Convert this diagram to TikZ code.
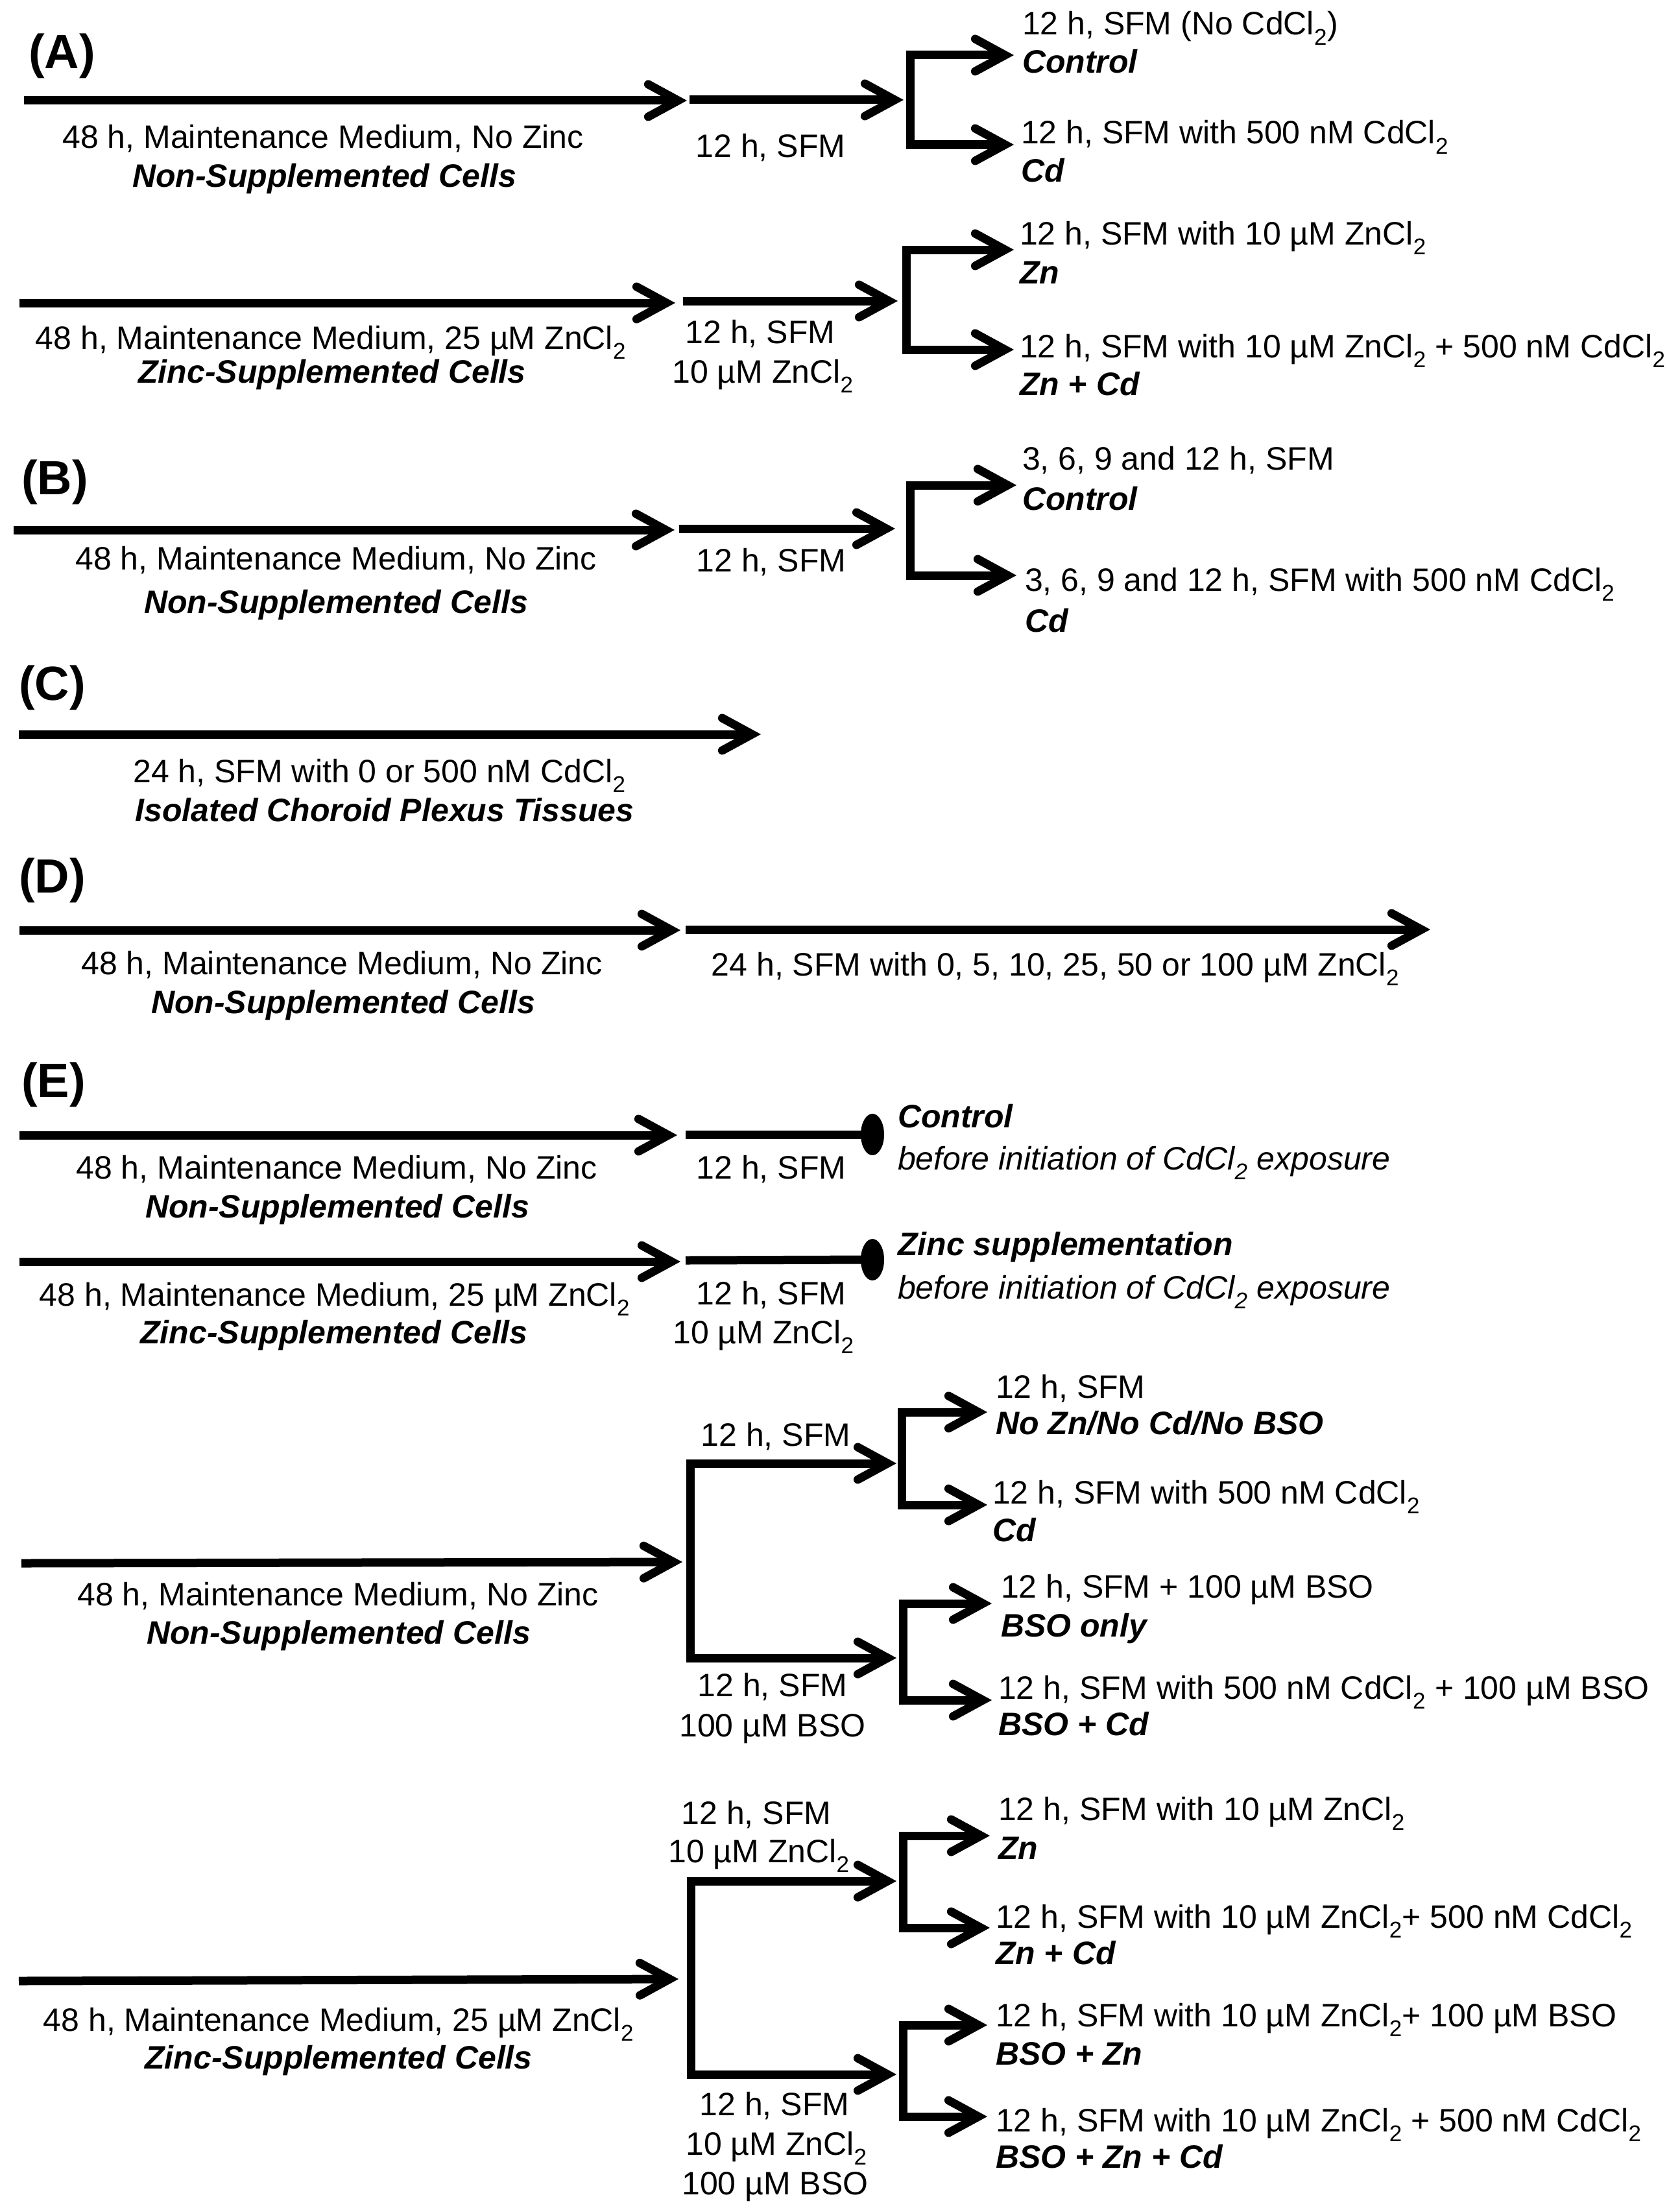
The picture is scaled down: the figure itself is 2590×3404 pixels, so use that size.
\documentclass[tikz,border=0pt]{standalone}
\usepackage{fontspec}
\setmainfont{Liberation Sans}
\usetikzlibrary{arrows.meta,shapes.geometric}
\newcommand{\sub}[1]{\textsubscript{#1}}
\begin{document}
\begin{tikzpicture}[x=1pt,y=-1pt,
  every node/.style={inner sep=0pt,outer sep=0pt},
  txt/.style={font=\fontsize{50}{60}\selectfont,text height=36pt,text depth=0pt},
  bi/.style={font=\fontsize{50}{60}\selectfont\bfseries\itshape,text height=36pt,text depth=0pt},
  itx/.style={font=\fontsize{50}{60}\selectfont\itshape,text height=36pt,text depth=0pt},
  rt/.style={anchor=west},
  seclab/.style={font=\fontsize{74}{80}\selectfont\bfseries,text height=53pt,text depth=0pt,anchor=west},
  mytip/.tip={Straight Barb[length=46pt,width=50pt,line cap=round,line join=miter]},
  flow/.style={line width=13pt,-{mytip}},
  bracket/.style={line width=13pt,line join=miter,{mytip}-{mytip}},
  seg/.style={line width=13pt},
  stopdot/.style={ellipse,fill=black,minimum width=36pt,minimum height=64pt}
]
\fill[white] (0,0) rectangle (2590,3404);
\useasboundingbox (0,0) rectangle (2590,3404);

% ---------------- (A)
\node[seclab] (LA) at (44,79) {(A)};
\coordinate (A1s) at (37,155); \coordinate (A1e) at (1059,155);
\draw[flow] (A1s) -- (A1e);
\node[txt] (A1t1) at (498,211) {48 h, Maintenance Medium, No Zinc};
\node[bi] (A1t2) at (500,270) {Non-Supplemented Cells};
\coordinate (A2s) at (1063,154); \coordinate (A2e) at (1393,154);
\draw[flow] (A2s) -- (A2e);
\node[txt] (A2t) at (1188,224) {12 h, SFM};
\coordinate (A3tt) at (1563,85); \coordinate (A3t) at (1403,85);
\coordinate (A3b) at (1403,223); \coordinate (A3bt) at (1563,223);
\draw[bracket] (A3tt) -- (A3t) -- (A3b) -- (A3bt);
\node[txt,rt] (A3a1) at (1576,36) {12 h, SFM (No CdCl\sub{2})};
\node[bi,rt] (A3a2) at (1576,95) {Control};
\node[txt,rt] (A3b1) at (1574,204) {12 h, SFM with 500 nM CdCl\sub{2}};
\node[bi,rt] (A3b2) at (1574,262) {Cd};

\coordinate (A4s) at (30,467); \coordinate (A4e) at (1041,467);
\draw[flow] (A4s) -- (A4e);
\node[txt] (A4t1) at (510,520) {48 h, Maintenance Medium, 25 µM ZnCl\sub{2}};
\node[bi] (A4t2) at (512,572) {Zinc-Supplemented Cells};
\coordinate (A5s) at (1053,464); \coordinate (A5e) at (1384,464);
\draw[flow] (A5s) -- (A5e);
\node[txt] (A5t1) at (1172,511) {12 h, SFM};
\node[txt] (A5t2) at (1176,572) {10 µM ZnCl\sub{2}};
\coordinate (A6tt) at (1563,385); \coordinate (A6t) at (1397,385);
\coordinate (A6b) at (1397,539); \coordinate (A6bt) at (1563,539);
\draw[bracket] (A6tt) -- (A6t) -- (A6b) -- (A6bt);
\node[txt,rt] (A6a1) at (1572,359) {12 h, SFM with 10 µM ZnCl\sub{2}};
\node[bi,rt] (A6a2) at (1572,419) {Zn};
\node[txt,rt] (A6b1) at (1572,533) {12 h, SFM with 10 µM ZnCl\sub{2} + 500 nM CdCl\sub{2}};
\node[bi,rt] (A6b2) at (1572,591) {Zn + Cd};

% ---------------- (B)
\node[seclab] (LB) at (33,736) {(B)};
\coordinate (B1s) at (21,817); \coordinate (B1e) at (1040,817);
\draw[flow] (B1s) -- (B1e);
\node[txt] (B1t1) at (518,860) {48 h, Maintenance Medium, No Zinc};
\node[bi] (B1t2) at (518,927) {Non-Supplemented Cells};
\coordinate (B2s) at (1047,815); \coordinate (B2e) at (1380,815);
\draw[flow] (B2s) -- (B2e);
\node[txt] (B2t) at (1189,863) {12 h, SFM};
\coordinate (B3tt) at (1567,748); \coordinate (B3t) at (1403,748);
\coordinate (B3b) at (1403,887); \coordinate (B3bt) at (1567,887);
\draw[bracket] (B3tt) -- (B3t) -- (B3b) -- (B3bt);
\node[txt,rt] (B3a1) at (1576,706) {3, 6, 9 and 12 h, SFM};
\node[bi,rt] (B3a2) at (1576,768) {Control};
\node[txt,rt] (B3b1) at (1580,893) {3, 6, 9 and 12 h, SFM with 500 nM CdCl\sub{2}};
\node[bi,rt] (B3b2) at (1580,956) {Cd};

% ---------------- (C)
\node[seclab] (LC) at (29,1053) {(C)};
\coordinate (C1s) at (29,1132); \coordinate (C1e) at (1173,1132);
\draw[flow] (C1s) -- (C1e);
\node[txt] (C1t1) at (585,1188) {24 h, SFM with 0 or 500 nM CdCl\sub{2}};
\node[bi] (C1t2) at (593,1248) {Isolated Choroid Plexus Tissues};

% ---------------- (D)
\node[seclab] (LD) at (29,1350) {(D)};
\coordinate (D1s) at (30,1434); \coordinate (D1e) at (1049,1434);
\draw[flow] (D1s) -- (D1e);
\coordinate (D2s) at (1057,1433); \coordinate (D2e) at (2205,1433);
\draw[flow] (D2s) -- (D2e);
\node[txt] (D1t1) at (527,1484) {48 h, Maintenance Medium, No Zinc};
\node[bi] (D1t2) at (529,1544) {Non-Supplemented Cells};
\node[txt] (D2t) at (1627,1486) {24 h, SFM with 0, 5, 10, 25, 50 or 100 µM ZnCl\sub{2}};

% ---------------- (E)
\node[seclab] (LE) at (33,1665) {(E)};
% row 1
\coordinate (E1s) at (30,1750); \coordinate (E1e) at (1044,1750);
\draw[flow] (E1s) -- (E1e);
\node[stopdot] (E1d) at (1345,1749) {};
\coordinate (E1m) at (1057,1749);
\draw[seg] (E1m) -- (E1d.center);
\node[txt] (E1t1) at (519,1799) {48 h, Maintenance Medium, No Zinc};
\node[bi] (E1t2) at (520,1859) {Non-Supplemented Cells};
\node[txt] (E1t3) at (1189,1799) {12 h, SFM};
\node[bi,rt] (E1r1) at (1384,1720) {Control};
\node[itx,rt] (E1r2) at (1384,1785) {before initiation of CdCl\sub{2} exposure};
% row 2
\coordinate (E2s) at (30,1945); \coordinate (E2e) at (1049,1945);
\draw[flow] (E2s) -- (E2e);
\node[stopdot] (E2d) at (1345,1942) {};
\coordinate (E2m) at (1057,1943);
\draw[seg] (E2m) -- (E2d.center);
\node[txt] (E2t1) at (516,1995) {48 h, Maintenance Medium, 25 µM ZnCl\sub{2}};
\node[bi] (E2t2) at (515,2053) {Zinc-Supplemented Cells};
\node[txt] (E2t3) at (1189,1993) {12 h, SFM};
\node[txt] (E2t4) at (1177,2053) {10 µM ZnCl\sub{2}};
\node[bi,rt] (E2r1) at (1384,1917) {Zinc supplementation};
\node[itx,rt] (E2r2) at (1384,1984) {before initiation of CdCl\sub{2} exposure};

% row 3
\coordinate (E3s) at (33,2410); \coordinate (E3e) at (1052,2408);
\draw[flow] (E3s) -- (E3e);
\node[txt] (E3t1) at (521,2457) {48 h, Maintenance Medium, No Zinc};
\node[bi] (E3t2) at (522,2516) {Non-Supplemented Cells};
\coordinate (E3tt) at (1382,2256); \coordinate (E3t) at (1064,2256);
\coordinate (E3b) at (1064,2556); \coordinate (E3bt) at (1382,2556);
\draw[bracket] (E3tt) -- (E3t) -- (E3b) -- (E3bt);
\node[txt] (E3u) at (1196,2211) {12 h, SFM};
\node[txt] (E3l1) at (1191,2597) {12 h, SFM};
\node[txt] (E3l2) at (1191,2659) {100 µM BSO};
\coordinate (E4tt) at (1522,2177); \coordinate (E4t) at (1390,2177);
\coordinate (E4b) at (1390,2320); \coordinate (E4bt) at (1522,2320);
\draw[bracket] (E4tt) -- (E4t) -- (E4b) -- (E4bt);
\node[txt,rt] (E4a1) at (1535,2137) {12 h, SFM};
\node[bi,rt] (E4a2) at (1535,2193) {No Zn/No Cd/No BSO};
\node[txt,rt] (E4b1) at (1530,2300) {12 h, SFM with 500 nM CdCl\sub{2}};
\node[bi,rt] (E4b2) at (1530,2358) {Cd};
\coordinate (E5tt) at (1529,2472); \coordinate (E5t) at (1392,2472);
\coordinate (E5b) at (1392,2621); \coordinate (E5bt) at (1529,2621);
\draw[bracket] (E5tt) -- (E5t) -- (E5b) -- (E5bt);
\node[txt,rt] (E5a1) at (1543,2445) {12 h, SFM + 100 µM BSO};
\node[bi,rt] (E5a2) at (1543,2505) {BSO only};
\node[txt,rt] (E5b1) at (1539,2601) {12 h, SFM with 500 nM CdCl\sub{2} + 100 µM BSO};
\node[bi,rt] (E5b2) at (1539,2657) {BSO + Cd};

% row 4
\coordinate (E6s) at (29,3054); \coordinate (E6e) at (1046,3051);
\draw[flow] (E6s) -- (E6e);
\node[txt] (E6t1) at (522,3113) {48 h, Maintenance Medium, 25 µM ZnCl\sub{2}};
\node[bi] (E6t2) at (522,3171) {Zinc-Supplemented Cells};
\coordinate (E6tt) at (1382,2900); \coordinate (E6t) at (1065,2900);
\coordinate (E6b) at (1065,3198); \coordinate (E6bt) at (1382,3198);
\draw[bracket] (E6tt) -- (E6t) -- (E6b) -- (E6bt);
\node[txt] (E6u1) at (1166,2794) {12 h, SFM};
\node[txt] (E6u2) at (1170,2853) {10 µM ZnCl\sub{2}};
\node[txt] (E6l1) at (1194,3243) {12 h, SFM};
\node[txt] (E6l2) at (1197,3304) {10 µM ZnCl\sub{2}};
\node[txt] (E6l3) at (1195,3365) {100 µM BSO};
\coordinate (E7tt) at (1526,2830); \coordinate (E7t) at (1392,2830);
\coordinate (E7b) at (1392,2972); \coordinate (E7bt) at (1526,2972);
\draw[bracket] (E7tt) -- (E7t) -- (E7b) -- (E7bt);
\node[txt,rt] (E7a1) at (1539,2788) {12 h, SFM with 10 µM ZnCl\sub{2}};
\node[bi,rt] (E7a2) at (1539,2848) {Zn};
\node[txt,rt] (E7b1) at (1535,2954) {12 h, SFM with 10 µM ZnCl\sub{2}+ 500 nM CdCl\sub{2}};
\node[bi,rt] (E7b2) at (1535,3010) {Zn + Cd};
\coordinate (E8tt) at (1522,3122); \coordinate (E8t) at (1392,3122);
\coordinate (E8b) at (1392,3263); \coordinate (E8bt) at (1522,3263);
\draw[bracket] (E8tt) -- (E8t) -- (E8b) -- (E8bt);
\node[txt,rt] (E8a1) at (1535,3106) {12 h, SFM with 10 µM ZnCl\sub{2}+ 100 µM BSO};
\node[bi,rt] (E8a2) at (1535,3165) {BSO + Zn};
\node[txt,rt] (E8b1) at (1535,3268) {12 h, SFM with 10 µM ZnCl\sub{2} + 500 nM CdCl\sub{2}};
\node[bi,rt] (E8b2) at (1535,3324) {BSO + Zn + Cd};
\end{tikzpicture}
\end{document}
